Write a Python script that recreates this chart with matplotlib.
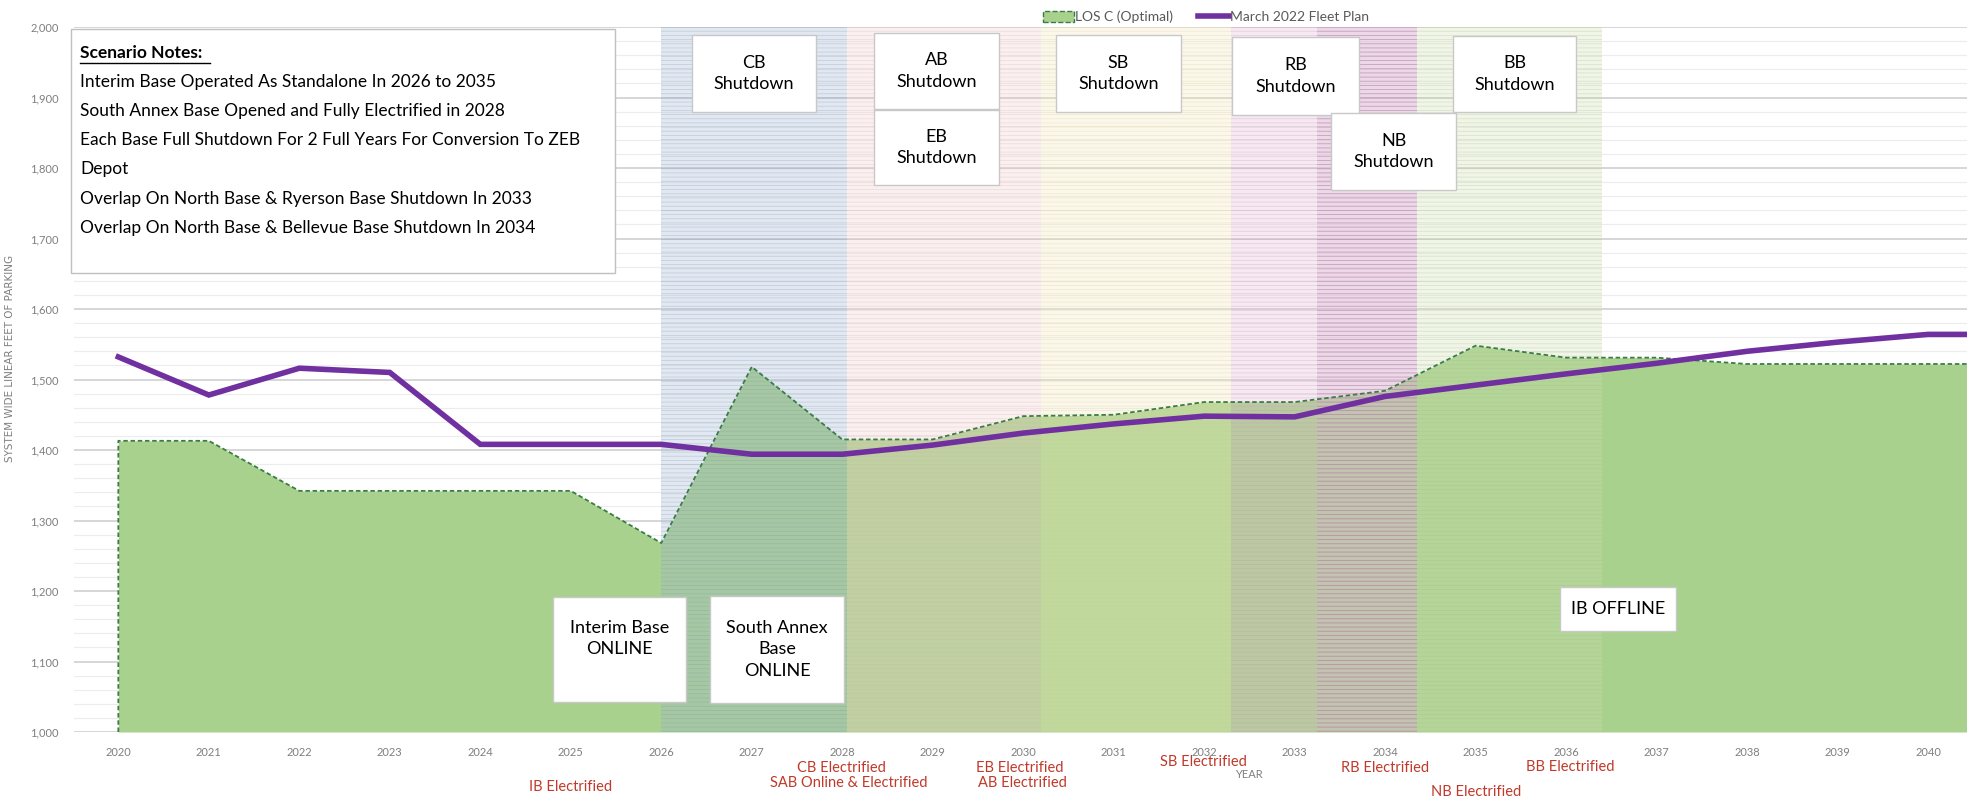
import matplotlib.pyplot as plt
from matplotlib.patches import Rectangle, Patch
from matplotlib.lines import Line2D
from matplotlib.ticker import MultipleLocator, FuncFormatter
from matplotlib.transforms import Affine2D

plt.rcParams['font.family'] = ['Lato', 'DejaVu Sans']
plt.rcParams['hatch.linewidth'] = 0.6

# data (2041 only carries the last value to the right edge)
years = list(range(2020, 2042))
los_c = [1413, 1413, 1342, 1342, 1342, 1342, 1268, 1518, 1415, 1415, 1448,
         1450, 1468, 1468, 1484, 1548, 1531, 1531, 1522, 1522, 1522, 1522]
fleet_plan = [1532, 1478, 1516, 1510, 1408, 1408, 1408, 1394, 1394, 1407, 1424,
              1437, 1448, 1447, 1476, 1492, 1508, 1523, 1540, 1553, 1564, 1564]
year_ticks = list(range(2020, 2041))

# shutdown periods
band_start = [2026.0, 2028.05, 2030.2, 2032.3, 2033.25, 2034.35]
band_end = [2028.05, 2030.2, 2032.3, 2034.35, 2034.35, 2036.4]
band_face = ['#9eb5d1', '#f4cece', '#f4ebbd', '#e5b8d4', '#d9b3d3', '#cee0b2']
band_hatch = ['#8094b0', '#d8aeae', '#d6cc98', '#c090b0', '#8c5a84', '#a8bc8c']

W, H = 1967, 801
fig = plt.figure(figsize=(W / 100, H / 100), dpi=100)
ax = fig.add_axes([74 / W, 1 - 732 / H, 1 - 74 / W, (732 - 27) / H])
# pixel coords of the reference picture (y from top)
pix = Affine2D().scale(1 / W, -1 / H).translate(0, 1) + fig.transFigure

ax.fill_between(years, 1000, los_c, color='#a9d18e', linewidth=0, zorder=1)
for s, e, fc, hc in zip(band_start, band_end, band_face, band_hatch):
    ax.axvspan(s, e, facecolor=fc, alpha=0.3, linewidth=0, zorder=1.5)
    ax.axvspan(s, e, facecolor='none', edgecolor=hc, hatch='----', alpha=0.3,
               linewidth=0, zorder=1.6)
ax.plot([years[0]] + years, [1000] + los_c, linestyle=(0, (2.5, 1.5)),
        color='#3a7d44', linewidth=1.3, zorder=3)
ax.plot(years, fleet_plan, color='#7030a0', linewidth=4, zorder=4,
        solid_joinstyle='miter')

ax.set_xlim(2019.51, 2040.43)
ax.set_ylim(1000, 2000)
ax.set_xticks(year_ticks)
ax.yaxis.set_major_locator(MultipleLocator(100))
ax.yaxis.set_minor_locator(MultipleLocator(20))
ax.yaxis.set_major_formatter(FuncFormatter(lambda v, p: f'{v:,.0f}'))
ax.grid(True, axis='y', which='major', color='#d0d0d0', linewidth=1.2, zorder=0)
ax.grid(True, axis='y', which='minor', color='#ececec', linewidth=0.8, zorder=0)
ax.set_axisbelow(True)
for sp in ax.spines.values():
    sp.set_visible(False)
ax.tick_params(axis='both', which='both', length=0, labelsize=8, labelcolor='#7f7f7f')
ax.tick_params(axis='x', pad=11)
ax.tick_params(axis='y', pad=11)
ax.set_ylabel('SYSTEM WIDE LINEAR FEET OF PARKING', fontsize=7.5, color='#7f7f7f',
              family='DejaVu Sans')
ax.yaxis.set_label_coords(-0.031, 0.53)

# legend above the plot
handles = [Patch(facecolor='#a9d18e', edgecolor='#3a7d44', linestyle='--', linewidth=1),
           Line2D([0], [0], color='#7030a0', linewidth=4)]
fig.legend(handles, ['LOS C (Optimal)', 'March 2022 Fleet Plan'], loc='center',
           bbox_to_anchor=(1206 / W, 1 - 17 / H), ncol=2, frameon=False, fontsize=10,
           labelcolor='#595959', handlelength=2.2, handleheight=0.9,
           handletextpad=0.1, columnspacing=1.8)

# note boxes (x0, y0, x1, y1, text)
boxes = [
    (692, 35, 816, 112, 'CB\nShutdown'),
    (874, 33, 999, 109, 'AB\nShutdown'),
    (874, 110, 999, 185, 'EB\nShutdown'),
    (1056, 35, 1181, 112, 'SB\nShutdown'),
    (1232, 37, 1359, 115, 'RB\nShutdown'),
    (1331, 113, 1456, 190, 'NB\nShutdown'),
    (1453, 36, 1576, 112, 'BB\nShutdown'),
    (553, 597, 686, 702, 'Interim Base\nONLINE\n'),
    (710, 596, 844, 703, 'South Annex\nBase\nONLINE'),
    (1560, 587, 1676, 631, 'IB OFFLINE'),
]
for x0, y0, x1, y1, txt in boxes:
    fig.patches.append(Rectangle((x0, y0), x1 - x0, y1 - y0, transform=pix,
                                 facecolor='white', edgecolor='#c8c8c8',
                                 linewidth=1, zorder=5))
    fig.text((x0 + x1) / 2, (y0 + y1) / 2, txt, transform=pix, ha='center',
             va='center', fontsize=13, linespacing=1.45, zorder=6)

# scenario notes
fig.patches.append(Rectangle((71, 29), 544, 244, transform=pix, facecolor='white',
                             edgecolor='#c0c0c0', linewidth=1, zorder=5))
fig.text(80, 53, 'Scenario Notes:', transform=pix, va='center', fontsize=12.5,
         fontweight='bold', zorder=6)
fig.lines.append(Line2D([80, 210], [63, 63], transform=pix, color='black',
                        linewidth=1, zorder=6))
notes = ['Interim Base Operated As Standalone In 2026 to 2035',
         'South Annex Base Opened and Fully Electrified in 2028',
         'Each Base Full Shutdown For 2 Full Years For Conversion To ZEB',
         'Depot',
         'Overlap On North Base & Ryerson Base Shutdown In 2033',
         'Overlap On North Base & Bellevue Base Shutdown In 2034']
for yy, line in zip([82, 111, 140, 169, 199, 228], notes):
    fig.text(80, yy, line, transform=pix, va='center', fontsize=12.5, zorder=6)

# electrification labels under the axis
elec = [('IB Electrified', 571, 787), ('CB Electrified', 841, 768),
        ('SAB Online & Electrified', 849, 783), ('EB Electrified', 1020, 768),
        ('AB Electrified', 1022, 783), ('SB Electrified', 1203, 762),
        ('RB Electrified', 1385, 768), ('NB Electrified', 1476, 792),
        ('BB Electrified', 1570, 767)]
for txt, xx, yy in elec:
    fig.text(xx, yy, txt, transform=pix, ha='center', va='center', fontsize=10.5,
             color='#c0392b')
fig.text(1249, 775, 'YEAR', transform=pix, ha='center', va='center', fontsize=8,
         color='#7f7f7f')

fig.savefig('out.png', dpi=100)
